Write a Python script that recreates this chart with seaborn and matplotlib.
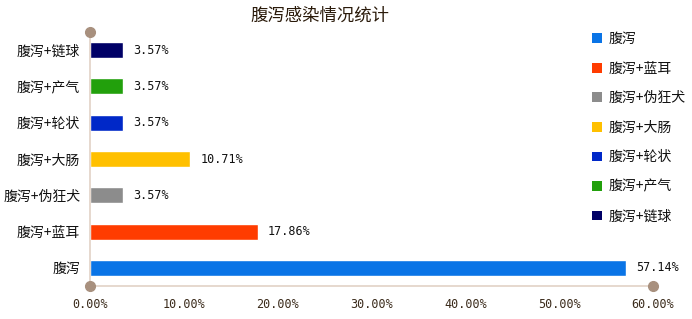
import matplotlib
matplotlib.use("Agg")
import matplotlib.pyplot as plt
import seaborn as sns
import pandas as pd
from matplotlib.patches import Patch

categories = ["腹泻+链球", "腹泻+产气", "腹泻+轮状", "腹泻+大肠", "腹泻+伪狂犬", "腹泻+蓝耳", "腹泻"]
values = [3.57, 3.57, 3.57, 10.71, 3.57, 17.86, 57.14]
colors = ["#000066", "#22a00c", "#0028c8", "#ffc000", "#8c8c8c", "#ff3c00", "#0a74e6"]
legend_order = ["腹泻", "腹泻+蓝耳", "腹泻+伪狂犬", "腹泻+大肠", "腹泻+轮状", "腹泻+产气", "腹泻+链球"]
xticks = [0, 10, 20, 30, 40, 50, 60]
title = "腹泻感染情况统计"

sns.set_style("white")
plt.rcParams['font.family'] = ['Noto Sans CJK SC', 'DejaVu Sans']

df = pd.DataFrame({"cat": categories, "val": values})
palette = dict(zip(categories, colors))

fig = plt.figure(figsize=(6.92, 3.19), dpi=100)
ax = fig.add_axes([90/692, 33/319, (653-90)/692, (286-32)/319])

sns.barplot(data=df, y="cat", x="val", hue="cat", order=categories, hue_order=categories,
            palette=palette, width=0.44, orient="h", legend=False, ax=ax, saturation=1)

ax.set_xlim(0, 60)
ax.set_ylim(6.5, -0.5)
ax.set_xlabel("")
ax.set_ylabel("")
ax.set_xticks(xticks)
ax.set_xticklabels([f"{t:.2f}%" for t in xticks], family="DejaVu Sans Mono", fontsize=8.5, color="#3a2a1a")
ax.tick_params(axis="x", length=0, pad=9)
ax.tick_params(axis="y", length=0, pad=7, labelsize=10, labelcolor="#111111")

for s in ["top", "right"]:
    ax.spines[s].set_visible(False)
for s in ["left", "bottom"]:
    ax.spines[s].set_color("#e2d2c6")
    ax.spines[s].set_linewidth(1.2)

ax.plot([0, 0, 60], [-0.5, 6.5, 6.5], linestyle="none", marker="o", markersize=7,
        color="#a8907e", clip_on=False, zorder=5)

for i, v in enumerate(values):
    ax.text(v + 60 * 10 / 563, i, f"{v:.2f}%", va="center", ha="left",
            family="DejaVu Sans Mono", fontsize=8.5, color="#111111")

fig.text(320/692, 1 - 16/319, title, ha="center", va="center", fontsize=12.5, color="#2a1a0a")

handles = [Patch(facecolor=palette[c], edgecolor="none") for c in legend_order]
fig.legend(handles, legend_order, loc="upper left", bbox_to_anchor=(592/692, 1 - 32/319),
           frameon=False, fontsize=10, handlelength=0.7, handleheight=0.7,
           labelspacing=1.12, handletextpad=0.5, borderpad=0, borderaxespad=0,
           labelcolor="#111111")

fig.savefig("out.png", dpi=100)
